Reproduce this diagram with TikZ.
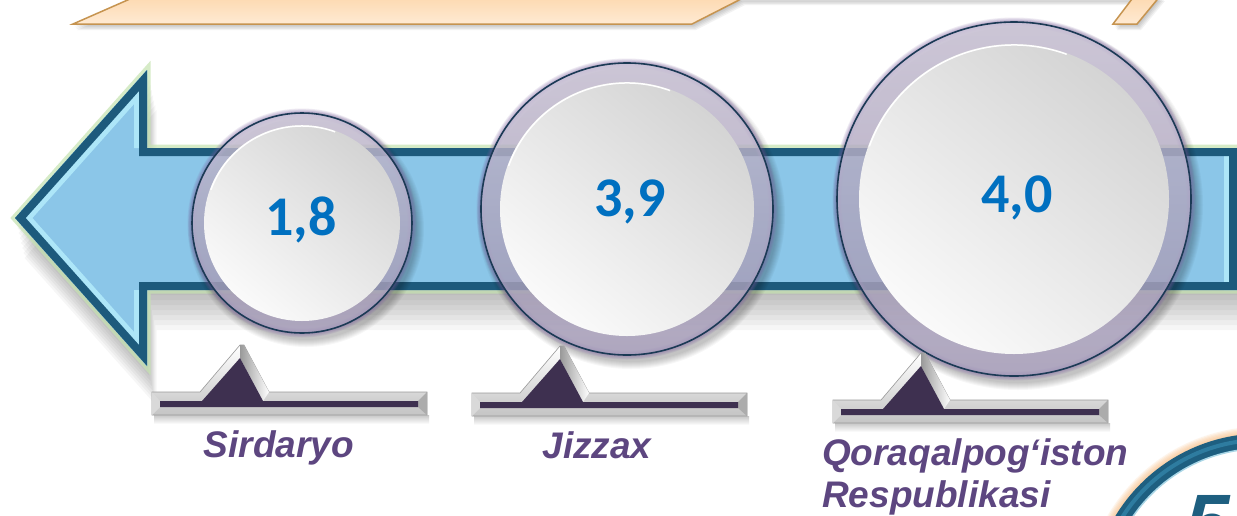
\documentclass[tikz,border=0pt]{standalone}
\usepackage{fontspec}
\newfontfamily\numfont{Carlito}
\newfontfamily\labfont{Liberation Sans}
\definecolor{arrowdark}{HTML}{1D5A7C}
\definecolor{arrowfill}{HTML}{8BC6E8}
\definecolor{arrowbevel}{HTML}{B4ECFB}
\definecolor{arrowglow}{HTML}{C5E3B0}
\definecolor{ringtop}{HTML}{CFC7DC}
\definecolor{ringbot}{HTML}{A99FBE}
\definecolor{navyline}{HTML}{1B3A55}
\definecolor{glowpurple}{HTML}{7A5C9E}
\definecolor{disktop}{HTML}{D4D4D4}
\definecolor{diskbot}{HTML}{FAFAFA}
\definecolor{numblue}{HTML}{0070C0}
\definecolor{labpurple}{HTML}{5D4680}
\definecolor{peddark}{HTML}{3E3050}
\definecolor{silverbot}{HTML}{C4C4C4}
\definecolor{silverline}{HTML}{9A9A9A}
\definecolor{bannertop}{HTML}{FCD8AE}
\definecolor{bannerbot}{HTML}{FFEAD3}
\definecolor{bannerline}{HTML}{C69450}
\definecolor{tealring}{HTML}{1E5F80}
\definecolor{tealmid}{HTML}{2E7CA0}
\definecolor{teallight}{HTML}{A9D6E6}
\definecolor{orangeglow}{HTML}{F7B877}
\tikzset{
  numtxt/.style={font=\numfont\bfseries\fontsize{56}{56}\selectfont, text=numblue, inner sep=0pt},
  labtxt/.style={font=\labfont\bfseries\itshape\fontsize{37}{42}\selectfont, text=labpurple, inner sep=0pt},
  bannerP/.style={insert path={(73,24) -- (139,-5) -- (1161,-5) -- (1137,24) -- (1113,24) -- (1132,-1) -- (741,-1) -- (692,24) -- cycle}},
  arrowP/.style={insert path={(15,218) -- (147,70) -- (147,148) -- (1237,148) -- (1237,290) -- (147,290) -- (147,366) -- cycle}},
  arrowbevelP/.style={insert path={(147,148) -- (147,70) -- (15,218) -- (147,366) -- (147,290) (1237,148) -- (1237,290)}},
}
\newcommand\mybubble[4]{%
  \foreach \k in {1,...,8} \fill[black, opacity=.03] (#1+4,#2+6) circle[radius=#3+\k];
  \foreach \k in {1,...,5} \draw[glowpurple, opacity=.12, line width=\k*1.8] (#1,#2) circle[radius=#3];
  \shade[top color=ringtop, bottom color=ringbot, opacity=.78] (#1,#2) circle[radius=#3];
  \shade[top color=disktop, bottom color=diskbot, shading angle=-40] (#1,#2) circle[radius=#4];
  \draw[white, line width=1.5] (#1,#2) ++(200:#4-1) arc[start angle=200, end angle=290, radius=#4-1];
  \draw[navyline, line width=1.6] (#1,#2) circle[radius=#3];
}
\newcommand\mypedestal[2]{%
  \begin{scope}[shift={(#1,#2)}]
    \shade[top color=black!22, bottom color=white] (2,23) rectangle (277,32);
    \shadedraw[top color=white, bottom color=silverbot, draw=silverline, line width=.6]
      (0,0) -- (48,0) -- (88,-47) -- (92,-47) -- (117,0) -- (275,0) -- (275,23) -- (0,23) -- cycle;
    \shade[left color=gray!80, right color=white] (88,-47) -- (92,-47) -- (117,0) -- (111,9) -- (88,-34) -- cycle;
    \fill[gray!65] (266,9) -- (275,0) -- (275,23) -- (266,15) -- cycle;
    \fill[gray!30] (0,0) -- (8,9) -- (8,15) -- (0,23) -- cycle;
    \fill[peddark] (8,9) -- (50,9) -- (88,-34) -- (111,9) -- (266,9) -- (266,15) -- (8,15) -- cycle;
  \end{scope}}
\begin{document}
\begin{tikzpicture}[x=1pt,y=-1pt]
\useasboundingbox (0,0) rectangle (1237,515);
\fill[white] (0,0) rectangle (1237,515);
\clip (0,0) rectangle (1237,515);
% banner
\foreach \k in {1,...,5} \fill[black, opacity=.05, shift={(\k*0.8,\k*1.2)}, bannerP];
\shadedraw[top color=bannertop, bottom color=bannerbot, draw=bannerline, line width=1.5, line join=miter, bannerP];
% arrow
\foreach \k in {1,...,8} \fill[black, opacity=.035, shift={(\k*1.2,\k*5)}, arrowP];
\draw[arrowglow, line width=7, line join=miter, opacity=.7, arrowP];
\fill[arrowfill, arrowP];
\begin{scope}
  \path[clip, arrowP];
  \draw[arrowbevel, line width=26, line join=miter, opacity=.85, arrowbevelP];
  \draw[arrowdark, line width=16, line join=miter, arrowP];
\end{scope}
% bubbles
\mybubble{302}{223}{110}{98}
\mybubble{627}{209}{146}{127}
\mybubble{1014}{199}{177}{155}
\node[numtxt] (v1) at (301,220) {1,8};
\node[numtxt] (v2) at (630,202) {3,9};
\node[numtxt] (v3) at (1017,198) {4,0};
% pedestals
\mypedestal{152}{392}
\mypedestal{472}{393}
\mypedestal{833}{400}
% labels
\node[labtxt, anchor=base] (l1) at (279,457) {Sirdaryo};
\node[labtxt, anchor=base] (l2) at (597,458) {Jizzax};
\node[labtxt, anchor=base west] (l3a) at (822,465) {Qoraqalpog‘iston};
\node[labtxt, anchor=base west] (l3b) at (822,507) {Respublikasi};
% bottom-right circle
\foreach \k in {1,...,7} \draw[orangeglow, opacity=.14, line width=\k*2.4] (1262,605) circle[radius=170];
\fill[white] (1262,605) circle[radius=170];
\draw[tealring, line width=15] (1262,605) circle[radius=164];
\draw[tealmid, line width=4] (1262,605) circle[radius=165];
\draw[teallight, line width=1.5] (1262,605) circle[radius=156.5];
\node[font=\labfont\bfseries\itshape\fontsize{80}{80}\selectfont, text=tealring, anchor=base, inner sep=0pt] (five) at (1208,550) {5};
\end{tikzpicture}
\end{document}
